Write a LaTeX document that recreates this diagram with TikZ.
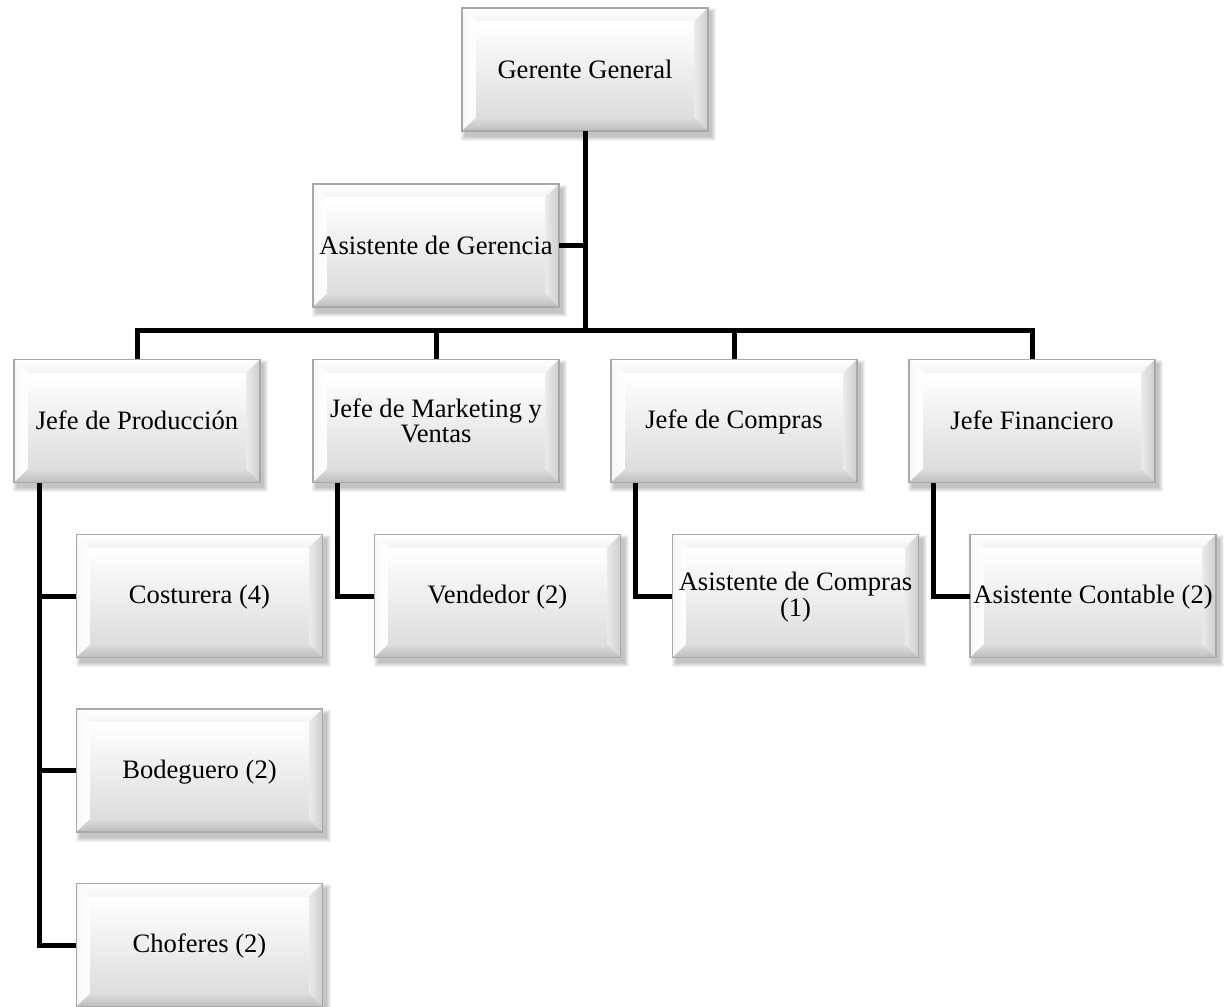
\documentclass[tikz,border=0pt]{standalone}
\usepackage{fontspec}
\setmainfont{Liberation Serif}
% struts that centre the capitals on the node centre
\newcommand\cardtop{\rule{0pt}{10.5pt}}
\newcommand\cardbot{\rule[-1.7pt]{0pt}{1.7pt}}
\begin{document}
\begin{tikzpicture}[x=0.5pt,y=-0.5pt,
  cardtext/.style={minimum width=123pt, minimum height=61.5pt, inner sep=0pt,
    align=center, font=\fontsize{13.3}{12.8}\selectfont},
  conn/.style={line width=2.5pt, black, line join=miter}]
\useasboundingbox (0,0) rectangle (1230,1006);
\definecolor{facetTop}{HTML}{F3F3F3}
\definecolor{facetLeft}{HTML}{F7F7F7}
\definecolor{facetRight}{HTML}{CDCDCD}
\definecolor{facetBottom}{HTML}{BDBDBD}
\definecolor{faceLow}{HTML}{DDDDDD}
\definecolor{rim}{HTML}{A8A8A8}

% bevelled card: #1 name, #2 x, #3 y (centre), #4 text
\newcommand\orgcard[4]{%
  \begin{scope}[shift={(#2,#3)}]
    \foreach \i in {0,1,2,3,4}
      \fill[black, opacity=0.05] (-120-\i,-57-\i) rectangle (127+\i,67+\i);
    \fill[white] (-123,-61.5) rectangle (123,61.5);
    \shade[top color=white, bottom color=facetTop]
      (-123,-61.5) -- (123,-61.5) -- (109,-48) -- (-109,-48) -- cycle;
    \shade[left color=facetLeft, right color=white]
      (-123,-61.5) -- (-109,-48) -- (-109,48) -- (-123,61.5) -- cycle;
    \shade[left color=white!60!facetRight, right color=facetRight]
      (123,-61.5) -- (123,61.5) -- (109,48) -- (109,-48) -- cycle;
    \shade[top color=white!50!facetBottom, bottom color=facetBottom]
      (-123,61.5) -- (123,61.5) -- (109,48) -- (-109,48) -- cycle;
    \shade[top color=white, bottom color=faceLow] (-109,-48) rectangle (109,48);
    \draw[rim, line width=0.6pt] (-123,-61.5) rectangle (123,61.5);
    \node[cardtext] (#1) at (0,0) {\cardtop #4\cardbot};
  \end{scope}}

\orgcard{gg}{585}{69.5}{Gerente General}
\orgcard{ag}{436}{245.5}{Asistente de Gerencia}
\orgcard{jp}{137}{421}{Jefe de Producción}
\orgcard{jm}{436}{421}{Jefe de Marketing y\\Ventas}
\orgcard{jc}{734}{421}{Jefe de Compras}
\orgcard{jf}{1032}{421}{Jefe Financiero}
\orgcard{cos}{199.5}{596}{Costurera (4)}
\orgcard{ven}{497.5}{596}{Vendedor (2)}
\orgcard{ac}{795.5}{596}{Asistente de Compras\\(1)}
\orgcard{acn}{1093}{596}{Asistente Contable (2)}
\orgcard{bod}{199.5}{770.5}{Bodeguero (2)}
\orgcard{cho}{199.5}{945}{Choferes (2)}

% connectors
\coordinate (bus) at (585,330);
\draw[conn] (gg.south) -- (bus);
\draw[conn] (ag.east) -- (ag.east -| gg.south);
\draw[conn] (jp.north) |- (bus) -| (jf.north);
\draw[conn] (jm.north) -- (jm.north |- bus);
\draw[conn] (jc.north) -- (jc.north |- bus);

\draw[conn] ([xshift=13pt]jp.south west) |- (cho.west);
\draw[conn] ([xshift=13pt]jp.south west |- cos.west) -- (cos.west);
\draw[conn] ([xshift=13pt]jp.south west |- bod.west) -- (bod.west);
\draw[conn] ([xshift=12.5pt]jm.south west) |- (ven.west);
\draw[conn] ([xshift=12.5pt]jc.south west) |- (ac.west);
\draw[conn] ([xshift=12.5pt]jf.south west) |- (acn.west);
\end{tikzpicture}
\end{document}
